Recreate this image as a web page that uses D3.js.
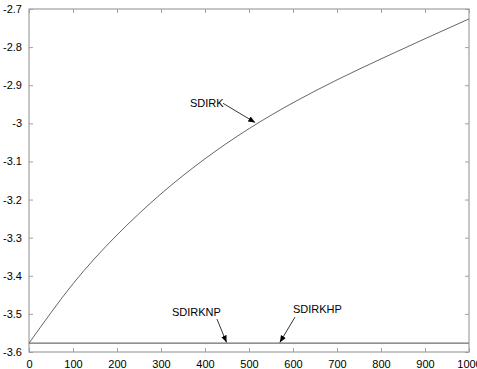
<!DOCTYPE html>
<html>
<head>
<meta charset="utf-8">
<script src="https://cdn.jsdelivr.net/npm/d3@7"></script>
<style>
  html, body { margin: 0; padding: 0; background: #fff; }
  svg { display: block; }
  text { font-family: "Liberation Sans", Arial, sans-serif; }
</style>
</head>
<body>
<svg id="chart" width="477" height="369"></svg>
<script>
// Step count and the error measure of each integrator
const steps = [0, 100, 200, 300, 400, 500, 600, 700, 800, 900, 1000];
const sdirk   = [-3.577, -3.421, -3.293, -3.185, -3.093, -3.014, -2.946, -2.886, -2.831, -2.778, -2.726];
const sdirknp = [-3.577, -3.577, -3.577, -3.577, -3.577, -3.577, -3.577, -3.577, -3.577, -3.577, -3.577];
const sdirkhp = [-3.5765, -3.5765, -3.5765, -3.5765, -3.5765, -3.5765, -3.5765, -3.5765, -3.5765, -3.5765, -3.5765];

const xTicks = [0, 100, 200, 300, 400, 500, 600, 700, 800, 900, 1000];
const yTicks = [-3.6, -3.5, -3.4, -3.3, -3.2, -3.1, -3, -2.9, -2.8, -2.7];

// Callouts: label text, label anchor (data units), arrow tip (data units)
const labels = ["SDIRK", "SDIRKNP", "SDIRKHP"];
const labelAt = [[366, -2.958], [325, -3.506], [600, -3.498]];
const arrowTo = [[514, -2.998], [449, -3.575], [570, -3.575]];

const svg = d3.select("#chart");
const mLeft = 29, mRight = 469, mTop = 9, mBottom = 352;

const x = d3.scaleLinear().domain([0, 1000]).range([mLeft, mRight]);
const y = d3.scaleLinear().domain([-3.6, -2.7]).range([mBottom, mTop]);

const axisColor = "#a0a0a0";
const fmt = d => String(+d.toFixed(1));

// frame
svg.append("rect")
  .attr("x", mLeft).attr("y", mTop)
  .attr("width", mRight - mLeft).attr("height", mBottom - mTop)
  .attr("fill", "none").attr("stroke", axisColor).attr("stroke-width", 1.2);

function styleAxis(g) {
  g.select(".domain").remove();
  g.selectAll(".tick line").attr("stroke", axisColor);
  g.selectAll(".tick text").attr("fill", "#000").style("font-size", "11px");
}

// bottom axis with inward ticks
svg.append("g").attr("transform", `translate(0,${mBottom})`)
  .call(d3.axisBottom(x).tickValues(xTicks).tickSizeInner(-4).tickSizeOuter(0).tickPadding(8).tickFormat(d3.format("d")))
  .call(styleAxis);
// top mirror ticks
svg.append("g").attr("transform", `translate(0,${mTop})`)
  .call(d3.axisTop(x).tickValues(xTicks).tickSizeInner(-4).tickSizeOuter(0).tickFormat(""))
  .call(styleAxis);
// left axis
svg.append("g").attr("transform", `translate(${mLeft},0)`)
  .call(d3.axisLeft(y).tickValues(yTicks).tickSizeInner(-4).tickSizeOuter(0).tickPadding(7).tickFormat(fmt))
  .call(styleAxis);
// right mirror ticks
svg.append("g").attr("transform", `translate(${mRight},0)`)
  .call(d3.axisRight(y).tickValues(yTicks).tickSizeInner(-4).tickSizeOuter(0).tickFormat(""))
  .call(styleAxis);

// series
const line = d3.line().x(d => x(d[0])).y(d => y(d[1])).curve(d3.curveNatural);
[[sdirkhp, "#9a9a9a"], [sdirknp, "#7a7a7a"], [sdirk, "#666"]].forEach(([vals, c]) => {
  svg.append("path")
    .datum(steps.map((s, i) => [s, vals[i]]))
    .attr("fill", "none").attr("stroke", c).attr("stroke-width", 1)
    .attr("d", line);
});

// arrowheads
svg.append("defs").append("marker")
  .attr("id", "head").attr("viewBox", "0 0 10 10")
  .attr("refX", 10).attr("refY", 5)
  .attr("markerWidth", 7).attr("markerHeight", 7)
  .attr("markerUnits", "userSpaceOnUse")
  .attr("orient", "auto")
  .append("path").attr("d", "M0,1 L10,5 L0,9 Z").attr("fill", "#000");

const starts = [[x(labelAt[0][0]) + 33, y(labelAt[0][1]) - 4],
                [x(labelAt[1][0]) + 45, y(labelAt[1][1]) + 3],
                [x(labelAt[2][0]) + 2, y(labelAt[2][1]) + 4]];

labels.forEach((t, i) => {
  svg.append("text")
    .attr("x", x(labelAt[i][0])).attr("y", y(labelAt[i][1]))
    .attr("fill", "#000").style("font-size", "11px")
    .text(t);
  svg.append("line")
    .attr("x1", starts[i][0]).attr("y1", starts[i][1])
    .attr("x2", x(arrowTo[i][0])).attr("y2", y(arrowTo[i][1]))
    .attr("stroke", "#000").attr("stroke-width", 0.8)
    .attr("marker-end", "url(#head)");
});
</script>
</body>
</html>
